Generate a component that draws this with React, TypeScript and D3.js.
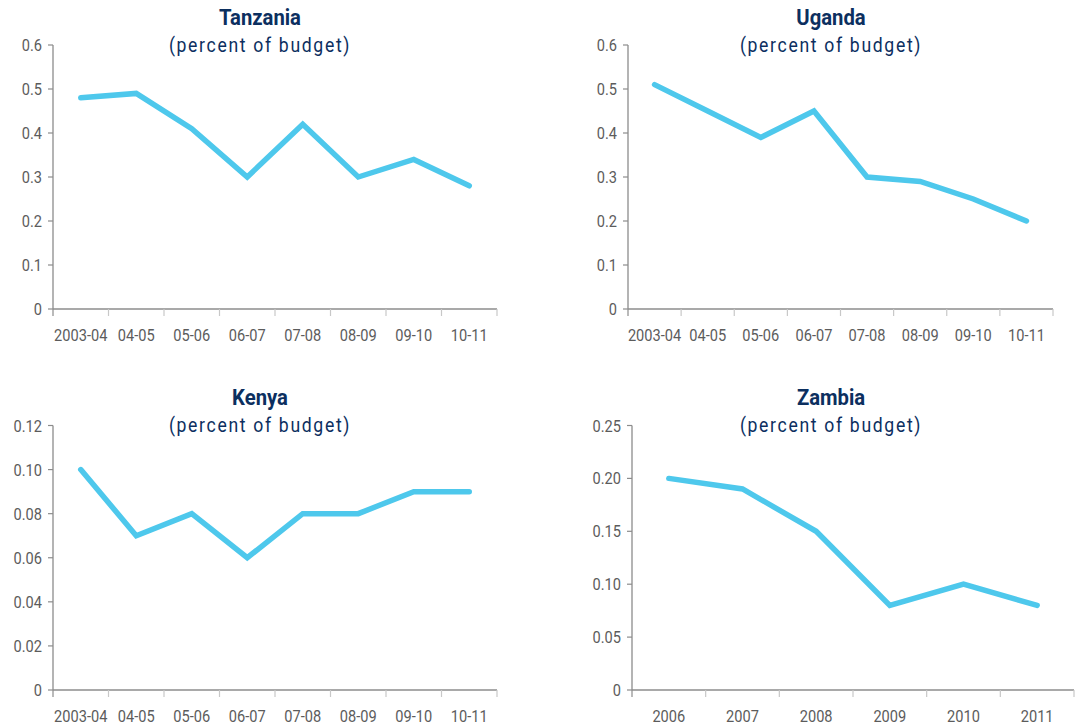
import React from "react";
import * as d3 from "d3";

const fiscalYears = ["2003-04", "04-05", "05-06", "06-07", "07-08", "08-09", "09-10", "10-11"];
const zambiaYears = ["2006", "2007", "2008", "2009", "2010", "2011"];

const tanzaniaValues = [0.48, 0.49, 0.41, 0.30, 0.42, 0.30, 0.34, 0.28];
const ugandaValues = [0.51, 0.45, 0.39, 0.45, 0.30, 0.29, 0.25, 0.20];
const kenyaValues = [0.10, 0.07, 0.08, 0.06, 0.08, 0.08, 0.09, 0.09];
const zambiaValues = [0.20, 0.19, 0.15, 0.08, 0.10, 0.08];

const tanzaniaTicks = [0, 0.1, 0.2, 0.3, 0.4, 0.5, 0.6];
const ugandaTicks = [0, 0.1, 0.2, 0.3, 0.4, 0.5, 0.6];
const kenyaTicks = [0, 0.02, 0.04, 0.06, 0.08, 0.10, 0.12];
const zambiaTicks = [0, 0.05, 0.10, 0.15, 0.20, 0.25];

const SUBTITLE = "(percent of budget)";

const FONT = "Roboto, 'Noto Sans', sans-serif";
const NAVY = "#0c2f5f";
const LINE = "#4ec8ec";
const AXIS = "#8c8c8c";
const TEXT = "#5c5c5c";

type CTextProps = {
  x: number;
  y: number;
  anchor: "start" | "middle" | "end";
  size: number;
  sx: number;
  weight?: string;
  fill: string;
  spacing?: number;
  children: React.ReactNode;
};

// Condensed text: horizontally squeezed to mimic a condensed typeface
function CText({ x, y, anchor, size, sx, weight = "normal", fill, spacing = 0, children }: CTextProps) {
  return (
    <g transform={`translate(${x},${y}) scale(${sx},1)`}>
      <text x={0} y={0} textAnchor={anchor} fontFamily={FONT} fontSize={size} fontWeight={weight} fill={fill} letterSpacing={spacing}>
        {children}
      </text>
    </g>
  );
}

type PanelProps = {
  title: string;
  cats: string[];
  values: number[];
  ticks: number[];
  fmt: (v: number) => string;
  x0: number;
  x1: number;
  yTop: number;
  yBottom: number;
  titleX: number;
  titleY: number;
};

function Panel({ title, cats, values, ticks, fmt, x0, x1, yTop, yBottom, titleX, titleY }: PanelProps) {
  const x = d3.scaleBand<string>().domain(cats).range([x0, x1]).paddingInner(0).paddingOuter(0);
  const y = d3.scaleLinear().domain([0, ticks[ticks.length - 1]]).range([yBottom, yTop]);
  const line = d3
    .line<number>()
    .x((_, i) => (x(cats[i]) as number) + x.bandwidth() / 2)
    .y((v) => y(v));
  const boundaries = d3.range(cats.length + 1).map((i) => x0 + i * x.step());
  return (
    <g>
      <CText x={titleX} y={titleY} anchor="middle" size={22.5} sx={0.9} weight="bold" fill={NAVY}>
        {title}
      </CText>
      <CText x={titleX} y={titleY + 27} anchor="middle" size={20} sx={0.88} fill={NAVY} spacing={1.9}>
        {SUBTITLE}
      </CText>
      {/* y axis */}
      <line x1={x0} x2={x0} y1={yTop} y2={yBottom} stroke={AXIS} strokeWidth={1.3} />
      {ticks.map((t) => (
        <g key={t}>
          <line x1={x0 - 5} x2={x0} y1={y(t)} y2={y(t)} stroke={AXIS} strokeWidth={1.2} />
          <CText x={x0 - 11} y={y(t) + 6} anchor="end" size={17} sx={0.86} fill={TEXT}>
            {fmt(t)}
          </CText>
        </g>
      ))}
      {/* x axis */}
      <line x1={x0} x2={x1} y1={yBottom} y2={yBottom} stroke={AXIS} strokeWidth={1.3} />
      {boundaries.map((bx, i) => (
        <line key={i} x1={bx} x2={bx} y1={yBottom} y2={yBottom + 7} stroke={i === 0 ? AXIS : "#c8c8c8"} strokeWidth={1.2} />
      ))}
      {cats.map((c) => (
        <CText key={c} x={(x(c) as number) + x.bandwidth() / 2} y={yBottom + 32} anchor="middle" size={17} sx={0.86} fill={TEXT}>
          {c}
        </CText>
      ))}
      <path d={line(values) || ""} fill="none" stroke={LINE} strokeWidth={5.5} strokeLinejoin="miter" strokeLinecap="round" />
    </g>
  );
}

export default function App() {
  const f1 = (v: number) => (v === 0 ? "0" : d3.format(".1f")(v));
  const f2 = (v: number) => (v === 0 ? "0" : d3.format(".2f")(v));
  return (
    <svg width={1085} height={726} style={{ position: "absolute", left: 0, top: 0, background: "#fff" }}>
      <Panel title="Tanzania" cats={fiscalYears} values={tanzaniaValues} ticks={tanzaniaTicks} fmt={f1}
        x0={53} x1={497} yTop={45} yBottom={309} titleX={260} titleY={25} />
      <Panel title="Uganda" cats={fiscalYears} values={ugandaValues} ticks={ugandaTicks} fmt={f1}
        x0={628} x1={1053} yTop={45} yBottom={309} titleX={831} titleY={25} />
      <Panel title="Kenya" cats={fiscalYears} values={kenyaValues} ticks={kenyaTicks} fmt={f2}
        x0={53} x1={497} yTop={425.5} yBottom={690} titleX={260} titleY={405} />
      <Panel title="Zambia" cats={zambiaYears} values={zambiaValues} ticks={zambiaTicks} fmt={f2}
        x0={632} x1={1074} yTop={425.5} yBottom={690} titleX={831} titleY={405} />
    </svg>
  );
}
